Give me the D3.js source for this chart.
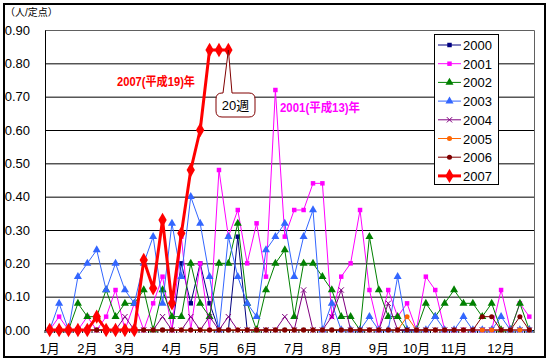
<!DOCTYPE html>
<html lang="ja">
<head>
<meta charset="UTF-8">
<title>定点当たり報告数</title>
<style>
    body { margin: 0; background: #fff; }
    svg text { font-family: "Liberation Sans", Arial, "Noto Sans CJK JP", sans-serif; }
</style>
</head>
<body>
<div id="container"></div>
<script src="https://cdn.jsdelivr.net/npm/d3@7/dist/d3.min.js"></script>
<script>
// weeks 1..52
var weeks = d3.range(1, 53);
var monthLabels = ["1月", "2月", "3月", "4月", "5月", "6月", "7月", "8月", "9月", "10月", "11月", "12月"];
var monthWeeks = [1, 5, 9, 14, 18, 22, 27, 31, 36, 40, 44, 49];
var yTicks = [0, 0.1, 0.2, 0.3, 0.4, 0.5, 0.6, 0.7, 0.8, 0.9];
var years = ["2000", "2001", "2002", "2003", "2004", "2005", "2006", "2007"];

var s2000 = [0, 0, 0, 0, 0, 0, 0, 0, 0, 0,
    0, 0, 0, 0, 0.20, 0.08, 0.20, 0.08, 0, 0,
    0.28, 0, 0, 0, 0, 0, 0, 0, 0, 0,
    0, 0, 0, 0, 0, 0, 0, 0, 0, 0,
    0, 0, 0, 0, 0, 0, 0, 0, 0, 0,
    0, 0];
var s2001 = [0, 0.04, 0, 0, 0.04, 0, 0.04, 0.12, 0, 0.08,
    0, 0.08, 0.16, 0, 0.28, 0, 0.20, 0, 0.48, 0.28,
    0.36, 0.20, 0.32, 0.16, 0.72, 0.28, 0.36, 0.36, 0.44, 0.44,
    0.04, 0.16, 0.20, 0.36, 0.12, 0, 0.12, 0.04, 0.08, 0,
    0.16, 0.12, 0, 0, 0, 0, 0, 0, 0.12, 0,
    0.08, 0.04];
var s2002 = [0, 0, 0, 0.08, 0.04, 0.04, 0.12, 0.04, 0.08, 0.08,
    0.12, 0, 0.12, 0.04, 0.04, 0.20, 0.08, 0.04, 0.20, 0.20,
    0.32, 0.08, 0, 0.12, 0.20, 0.24, 0.04, 0.20, 0.20, 0.16,
    0.12, 0.04, 0.04, 0, 0.28, 0.12, 0.04, 0.04, 0, 0,
    0.08, 0.04, 0.08, 0.12, 0.08, 0.08, 0.04, 0.08, 0, 0,
    0.08, 0];
var s2003 = [0, 0.08, 0, 0.16, 0.20, 0.24, 0.12, 0.20, 0.12, 0.08,
    0.20, 0.28, 0.08, 0.32, 0.16, 0.40, 0.32, 0.16, 0, 0.28,
    0.16, 0.08, 0.04, 0.24, 0.28, 0.32, 0.16, 0.28, 0.36, 0,
    0.08, 0, 0, 0, 0.04, 0, 0, 0.16, 0, 0,
    0, 0.04, 0, 0, 0.04, 0, 0, 0, 0.04, 0,
    0, 0];
var s2004 = [0, 0, 0, 0, 0, 0, 0, 0, 0.04, 0,
    0, 0, 0.04, 0, 0, 0.04, 0, 0.04, 0, 0.04,
    0, 0, 0, 0, 0, 0.04, 0, 0.12, 0, 0,
    0.04, 0.12, 0, 0, 0, 0, 0.08, 0, 0, 0,
    0, 0, 0, 0, 0, 0, 0, 0, 0, 0,
    0, 0];
var s2005 = [0, 0, 0, 0, 0, 0, 0, 0, 0, 0,
    0, 0, 0, 0, 0, 0, 0, 0, 0, 0,
    0, 0, 0, 0, 0, 0, 0, 0, 0, 0,
    0, 0, 0, 0, 0, 0, 0, 0, 0.04, 0,
    0, 0, 0, 0, 0, 0, 0, 0, 0, 0,
    0, 0];
var s2006 = [0, 0, 0, 0, 0, 0, 0, 0, 0, 0,
    0, 0, 0, 0, 0, 0, 0, 0, 0, 0,
    0, 0, 0, 0, 0, 0, 0, 0, 0, 0,
    0, 0, 0, 0, 0, 0, 0, 0, 0, 0,
    0, 0, 0, 0, 0, 0, 0.04, 0.04, 0, 0,
    0.04, 0];
var s2007 = [0, 0, 0, 0, 0, 0.04, 0, 0, 0, 0,
    0.21, 0.125, 0.33, 0.08, 0.29, 0.48, 0.60, 0.84, 0.84, 0.84];

var seriesValues = [s2000, s2001, s2002, s2003, s2004, s2005, s2006, s2007];
var colors = ["#000080", "#ff00ff", "#008000", "#3366ff", "#800080", "#ff6600", "#800000", "#ff0000"];
var markers = ["square", "square", "triangle", "triangle", "star", "circle", "circle", "diamond"];

var width = 550, height = 362;
var plot = { left: 45, right: 534, top: 30, bottom: 330 };

var svg = d3.select("#container").append("svg")
    .attr("width", width)
    .attr("height", height);

// outer frame
svg.append("rect")
    .attr("x", 4).attr("y", 4)
    .attr("width", 541).attr("height", 353)
    .attr("fill", "#fff")
    .attr("stroke", "#000")
    .attr("stroke-width", 2);

var x = d3.scalePoint().domain(weeks).range([plot.left, plot.right]).padding(0.5);
var y = d3.scaleLinear().domain([0, 0.9]).range([plot.bottom, plot.top]);

// gridlines
svg.append("g")
    .attr("transform", "translate(" + plot.left + ",0)")
    .call(d3.axisLeft(y).tickValues(yTicks).tickSize(-(plot.right - plot.left)).tickFormat(""))
    .call(function (g) {
        g.select(".domain").remove();
        g.selectAll("line").attr("stroke", "#000");
    });

// plot border top/right
svg.append("path")
    .attr("d", "M" + plot.left + "," + (plot.top + 0.5) + "H" + (plot.right + 0.5) + "V" + plot.bottom)
    .attr("fill", "none")
    .attr("stroke", "#606060");

// y axis labels
svg.append("g")
    .attr("transform", "translate(" + plot.left + ",0)")
    .call(d3.axisLeft(y).tickValues(yTicks).tickSize(0).tickPadding(15).tickFormat(d3.format(".2f")))
    .call(function (g) {
        g.select(".domain").attr("stroke", "#000");
        g.selectAll("text").attr("font-size", 13).attr("fill", "#000")
            .attr("font-family", "Liberation Sans, Arial, sans-serif");
    });

// x axis: small ticks between weeks, labels at month starts
var step = x.step();
svg.append("g")
    .selectAll("line")
    .data(d3.range(0, weeks.length + 1))
    .join("line")
    .attr("x1", function (d) { return plot.left + d * step; })
    .attr("x2", function (d) { return plot.left + d * step; })
    .attr("y1", plot.bottom)
    .attr("y2", plot.bottom + 3)
    .attr("stroke", "#000");

svg.append("line")
    .attr("x1", plot.left).attr("x2", plot.right)
    .attr("y1", plot.bottom + 0.5).attr("y2", plot.bottom + 0.5)
    .attr("stroke", "#000");

svg.append("g")
    .selectAll("text")
    .data(monthLabels)
    .join("text")
    .attr("x", function (d, i) { return x(monthWeeks[i]); })
    .attr("y", 353)
    .attr("text-anchor", "middle")
    .attr("font-size", 13)
    .text(function (d) { return d; });

// unit label
svg.append("text")
    .attr("x", 5).attr("y", 16)
    .attr("font-size", 10)
    .attr("font-family", "Noto Sans CJK JP, sans-serif")
    .text("（人/定点）");

function markerPath(type, size) {
    var sym = {
        square: d3.symbolSquare,
        triangle: d3.symbolTriangle,
        circle: d3.symbolCircle,
        diamond: d3.symbolDiamond,
        star: d3.symbolX
    }[type];
    return d3.symbol().type(sym).size(size)();
}

function markerSize(k) {
    if (k === 7) return 60;
    return markers[k] === "triangle" ? 28 : 20;
}

var line = d3.line()
    .x(function (d, i) { return x(weeks[i]); })
    .y(function (d) { return y(d); });

seriesValues.forEach(function (vals, k) {
    var g = svg.append("g").attr("class", "series-" + years[k]);
    var thick = k === 7;
    g.append("path")
        .attr("d", line(vals))
        .attr("fill", "none")
        .attr("stroke", colors[k])
        .attr("stroke-width", thick ? 3 : 1)
        .attr("stroke-linejoin", "round");
    g.selectAll("path.mk")
        .data(vals)
        .join("path")
        .attr("class", "mk")
        .attr("transform", function (d, i) { return "translate(" + x(weeks[i]) + "," + y(d) + ")"; })
        .attr("d", markerPath(markers[k], markerSize(k)))
        .attr("fill", markers[k] === "star" ? "none" : colors[k])
        .attr("stroke", markers[k] === "star" ? colors[k] : "none")
        .attr("stroke-width", 1);
});

// legend
var legend = svg.append("g").attr("transform", "translate(434,34)");
legend.append("rect")
    .attr("x", 0.5).attr("y", 0.5)
    .attr("width", 64).attr("height", 150)
    .attr("fill", "#fff")
    .attr("stroke", "#000");

var item = legend.selectAll("g.item")
    .data(years)
    .join("g")
    .attr("class", "item")
    .attr("transform", function (d, i) { return "translate(0," + (11 + i * 18.7) + ")"; });

item.append("line")
    .attr("x1", 4).attr("x2", 27)
    .attr("stroke", function (d, i) { return colors[i]; })
    .attr("stroke-width", function (d, i) { return i === 7 ? 3 : 1; });

item.append("path")
    .attr("transform", "translate(15.5,0)")
    .attr("d", function (d, i) { return markerPath(markers[i], markerSize(i)); })
    .attr("fill", function (d, i) { return markers[i] === "star" ? "none" : colors[i]; })
    .attr("stroke", function (d, i) { return markers[i] === "star" ? colors[i] : "none"; })
    .attr("stroke-width", 1);

item.append("text")
    .attr("x", 29)
    .attr("y", 5)
    .attr("font-size", 13)
    .text(function (d) { return d; });

// annotations
svg.append("text")
    .attr("x", 117).attr("y", 86)
    .attr("font-size", 12)
    .attr("font-weight", "bold")
    .attr("fill", "#ff0000")
    .attr("textLength", 78)
    .attr("lengthAdjust", "spacingAndGlyphs")
    .text("2007(平成19)年");

svg.append("text")
    .attr("x", 280).attr("y", 112)
    .attr("font-size", 12)
    .attr("font-weight", "bold")
    .attr("fill", "#ff00ff")
    .attr("textLength", 80)
    .attr("lengthAdjust", "spacingAndGlyphs")
    .text("2001(平成13)年");

// callout pointing to week 20
var tipX = x(20), tipY = y(s2007[19]);
var bx = 216, by = 93, bw = 39, bh = 24, r = 6;
svg.append("path")
    .attr("d", "M" + (bx + r) + "," + by +
        "L" + (bx + 7) + "," + by +
        "L" + tipX + "," + tipY +
        "L" + (bx + 16) + "," + by +
        "L" + (bx + bw - r) + "," + by +
        "Q" + (bx + bw) + "," + by + " " + (bx + bw) + "," + (by + r) +
        "L" + (bx + bw) + "," + (by + bh - r) +
        "Q" + (bx + bw) + "," + (by + bh) + " " + (bx + bw - r) + "," + (by + bh) +
        "L" + (bx + r) + "," + (by + bh) +
        "Q" + bx + "," + (by + bh) + " " + bx + "," + (by + bh - r) +
        "L" + bx + "," + (by + r) +
        "Q" + bx + "," + by + " " + (bx + r) + "," + by + "Z")
    .attr("fill", "#fff")
    .attr("stroke", "#800000")
    .attr("stroke-width", 1);

svg.append("text")
    .attr("x", bx + bw / 2).attr("y", by + 17)
    .attr("text-anchor", "middle")
    .attr("font-size", 13)
    .attr("font-family", "Liberation Sans, Noto Sans CJK JP, sans-serif")
    .text("20週");
</script>
</body>
</html>
